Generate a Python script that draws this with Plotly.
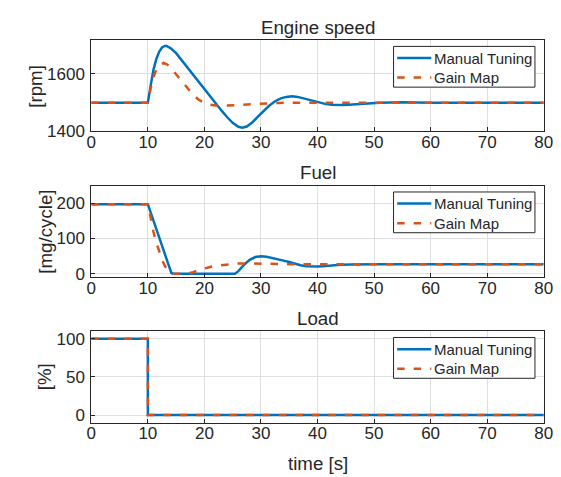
import plotly.graph_objects as go

# ---------------- data ----------------
t_spd_manual = [0, 10, 10.5, 11, 11.5, 12, 12.5, 13, 13.3, 14, 15, 16, 17, 18, 19, 20, 21, 22, 23, 24, 25, 26,
                26.7, 27.5, 28.5, 29.5, 30.5, 31.5, 32.5, 33.5, 34.5, 35.5, 36.5, 37.5, 38.5, 39.5, 40.5,
                41.5, 42.5, 43.5, 44.5, 45.5, 47, 49, 51, 55, 60, 80]
spd_manual = [1500, 1500, 1560, 1615, 1652, 1677, 1692, 1697, 1697, 1690, 1672, 1647, 1622, 1597, 1571, 1545,
              1521, 1497, 1473, 1450, 1430, 1416, 1413, 1417, 1432, 1452, 1472, 1490, 1505, 1515, 1520, 1522,
              1520, 1515, 1509, 1503, 1498, 1495, 1493, 1492, 1492, 1493, 1495, 1498, 1500, 1501, 1500, 1500]

t_spd_gain = [0, 10, 10.5, 11, 11.5, 12, 12.8, 13.5, 14, 15, 16, 17, 18, 19, 20, 21, 22, 22.6, 24, 26, 28,
              30, 33, 36, 80]
spd_gain = [1500, 1500, 1550, 1590, 1615, 1630, 1638, 1632, 1622, 1598, 1573, 1550, 1528, 1510, 1499, 1493,
            1490, 1489, 1490, 1492, 1495, 1497, 1499, 1500, 1500]

t_fuel_manual = [0, 10, 14.15, 14.4, 25.4, 26, 27, 28, 29, 30, 31, 32, 33, 34, 35, 36, 37, 38, 39, 40, 41,
                 42, 44, 46, 50, 80]
fuel_manual = [197, 197, 2, 0, 0, 7, 25, 39, 47, 49, 48, 45, 41, 37, 33, 28, 24, 21, 20, 20, 21, 23, 25, 26,
               26.5, 26.5]

t_fuel_gain = [0, 10, 10.3, 10.7, 11, 11.5, 12, 12.5, 13, 13.5, 14, 14.5, 17, 17.5, 18, 19, 20, 21, 22, 23,
               24, 25, 26, 27, 28, 30, 32, 35, 40, 80]
fuel_gain = [197, 197, 175, 140, 118, 88, 62, 40, 22, 10, 3, 0, 0, 1, 4, 10, 15, 19, 22, 24, 26, 27.5, 28.5,
             29, 29, 28.5, 27.5, 27, 26.5, 26.5]

t_load = [0, 10, 10, 80]
load_manual = [100, 100, 0, 0]
load_gain = [100, 100, 0, 0]

titles = ["Engine speed", "Fuel", "Load"]
ylabels = ["[rpm]", "[mg/cycle]", "[%]"]
xlabel = "time [s]"
series_names = ["Manual Tuning", "Gain Map"]
x_ticks = [0, 10, 20, 30, 40, 50, 60, 70, 80]
y_ticks = [[1400, 1600], [0, 100, 200], [0, 50, 100]]
y_ranges = [[1400, 1718], [-10, 250], [-10, 110]]

# ---------------- layout ----------------
W, H = 561, 477
BLUE = "#0072BD"
ORANGE = "#D95319"
AX = "#262626"
GRID = "#dfdfdf"
FONT = "Liberation Sans, Arial, sans-serif"
TICK_SIZE = 17
LABEL_SIZE = 18.7
LEGEND_SIZE = 15
LW = 2.5
DASH = "7.5px,9px"

x_dom = [80.3 / W, 544.3 / W]
boxes = [(31.7, 125.3), (180.7, 274.5), (329.7, 423.5)]
y_doms = [[1 - b / H, 1 - t / H] for t, b in boxes]
ylabel_shift = [55.3, 46, 46]

def px(x):
    return x / W

def py(y):
    return 1 - y / H

fig = go.Figure()
data = [
    (t_spd_manual, spd_manual, t_spd_gain, spd_gain),
    (t_fuel_manual, fuel_manual, t_fuel_gain, fuel_gain),
    (t_load, load_manual, t_load, load_gain),
]
for i, (tm, ym, tg, yg) in enumerate(data):
    ax = "" if i == 0 else str(i + 1)
    fig.add_trace(go.Scatter(x=tm, y=ym, mode="lines", name=series_names[0],
                             line=dict(color=BLUE, width=LW), showlegend=False,
                             xaxis="x" + ax, yaxis="y" + ax))
    fig.add_trace(go.Scatter(x=tg, y=yg, mode="lines", name=series_names[1],
                             line=dict(color=ORANGE, width=LW, dash=DASH), showlegend=False,
                             xaxis="x" + ax, yaxis="y" + ax))

layout = dict(
    width=W, height=H,
    margin=dict(l=0, r=0, t=0, b=0),
    paper_bgcolor="white", plot_bgcolor="white",
    font=dict(family=FONT, color=AX, size=TICK_SIZE),
    annotations=[], shapes=[], showlegend=False,
)
for i in range(3):
    ax = "" if i == 0 else str(i + 1)
    top = boxes[i][0]
    layout["xaxis" + ax] = dict(
        domain=x_dom, anchor="y" + ax, range=[0, 80], tickvals=x_ticks,
        showgrid=True, gridcolor=GRID, gridwidth=1, zeroline=False,
        showline=True, linecolor=AX, linewidth=1, mirror=True,
        ticks="inside", ticklen=4, tickcolor=AX, tickfont=dict(size=TICK_SIZE, color=AX),
        ticklabelstandoff=-5,
    )
    layout["yaxis" + ax] = dict(
        domain=y_doms[i], anchor="x" + ax, range=y_ranges[i], tickvals=y_ticks[i],
        showgrid=True, gridcolor=GRID, gridwidth=1, zeroline=False,
        showline=True, linecolor=AX, linewidth=1, mirror=True,
        ticks="inside", ticklen=4, tickcolor=AX, tickfont=dict(size=TICK_SIZE, color=AX),
        ticklabelstandoff=2,
    )
    # subplot title
    layout["annotations"].append(dict(
        text=titles[i], x=(x_dom[0] + x_dom[1]) / 2, y=py(top - 13), xref="paper", yref="paper",
        xanchor="center", yanchor="middle", showarrow=False,
        font=dict(size=LABEL_SIZE, color=AX)))
    # y label
    layout["annotations"].append(dict(
        text=ylabels[i], x=x_dom[0], y=(y_doms[i][0] + y_doms[i][1]) / 2, xref="paper", yref="paper",
        xanchor="center", yanchor="middle", xshift=-ylabel_shift[i], textangle=-90, showarrow=False,
        font=dict(size=LABEL_SIZE, color=AX)))
    # legend box
    layout["shapes"].append(dict(
        type="rect", xref="paper", yref="paper",
        x0=px(390.3), x1=px(535.3), y0=py(top + 6.6), y1=py(top + 48.3),
        line=dict(color=AX, width=1), fillcolor="white", layer="above"))
    for k, (col, dash) in enumerate([(BLUE, "solid"), (ORANGE, DASH)]):
        yc = top + 18.5 + 20 * k
        layout["shapes"].append(dict(
            type="line", xref="paper", yref="paper",
            x0=px(394), x1=px(429), y0=py(yc), y1=py(yc),
            line=dict(color=col, width=LW, dash=dash), layer="above"))
        layout["annotations"].append(dict(
            text=series_names[k], x=px(430), y=py(yc), xref="paper", yref="paper",
            xanchor="left", yanchor="middle", showarrow=False,
            font=dict(size=LEGEND_SIZE, color=AX)))

layout["annotations"].append(dict(
    text=xlabel, x=(x_dom[0] + x_dom[1]) / 2, y=py(465.7), xref="paper", yref="paper",
    xanchor="center", yanchor="middle", showarrow=False, font=dict(size=LABEL_SIZE, color=AX)))

fig.update_layout(**layout)
fig.write_html("out.html")
